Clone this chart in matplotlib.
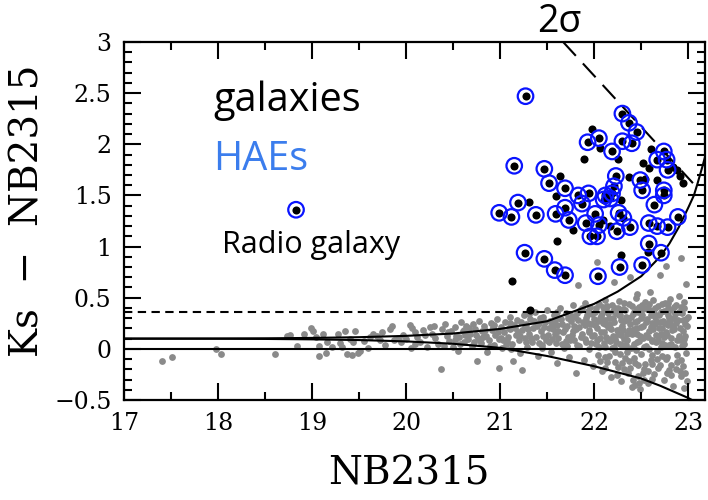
import numpy as np
import matplotlib.pyplot as plt
from matplotlib.ticker import MultipleLocator, FuncFormatter

# colour-magnitude diagram: Ks - NB2315 against NB2315

# all sources (grey)
gray_x = [17.41, 17.51, 17.98, 18.03, 18.61, 18.73, 18.77, 18.84, 18.91, 18.99,
          19.01, 19.04, 19.07, 19.07, 19.12, 19.16, 19.15, 19.21, 19.28, 19.30,
          19.32, 19.35, 19.37, 19.42, 19.40, 19.46, 19.49, 19.51, 19.44, 19.55,
          19.62, 19.65, 19.69, 19.74, 19.72, 19.83, 19.85, 19.87, 19.95, 19.97,
          19.78, 19.60, 19.91, 20.04, 20.06, 20.09, 20.12, 20.15, 20.05, 20.18,
          20.22, 20.25, 20.28, 20.31, 20.34, 20.37, 20.38, 20.41, 20.44, 20.46,
          20.48, 20.50, 20.52, 20.55, 20.56, 20.58, 20.60, 20.62, 20.64, 20.66,
          20.68, 20.70, 20.71, 20.73, 20.75, 20.76, 20.78, 20.80, 20.81, 20.83,
          20.85, 20.86, 20.88, 20.90, 20.91, 20.93, 20.95, 20.97, 20.99, 20.99,
          21.01, 21.02, 21.04, 21.05, 21.07, 21.08, 21.10, 21.11, 21.13, 21.14,
          21.15, 21.17, 21.18, 21.20, 21.21, 21.23, 21.23, 21.25, 21.26, 21.28,
          21.29, 21.31, 21.32, 21.34, 21.35, 21.37, 21.38, 21.40, 21.41, 21.43,
          21.44, 21.46, 21.47, 21.49, 21.50, 21.51, 21.53, 21.54, 21.56, 21.57,
          21.59, 21.60, 21.61, 21.62, 21.64, 21.65, 21.67, 21.68, 21.70, 21.71,
          21.73, 21.74, 21.75, 21.77, 21.78, 21.80, 21.81, 21.82, 21.83, 21.84,
          21.85, 21.86, 21.88, 21.89, 21.90, 21.91, 21.92, 21.94, 21.95, 21.96,
          21.97, 21.98, 21.99, 22.00, 22.01, 22.02, 22.03, 22.03, 22.04, 22.05,
          22.06, 22.07, 22.08, 22.09, 22.10, 22.11, 22.12, 22.13, 22.14, 22.15,
          22.16, 22.17, 22.18, 22.19, 22.20, 22.21, 22.21, 22.22, 22.23, 22.24,
          22.25, 22.26, 22.27, 22.28, 22.29, 22.30, 22.31, 22.32, 22.33, 22.34,
          22.35, 22.36, 22.37, 22.38, 22.38, 22.39, 22.40, 22.41, 22.42, 22.43,
          22.44, 22.45, 22.45, 22.46, 22.47, 22.48, 22.49, 22.50, 22.51, 22.52,
          22.53, 22.54, 22.55, 22.56, 22.57, 22.58, 22.59, 22.59, 22.60, 22.61,
          22.62, 22.63, 22.64, 22.65, 22.66, 22.67, 22.68, 22.69, 22.70, 22.70,
          22.71, 22.72, 22.73, 22.74, 22.75, 22.76, 22.76, 22.77, 22.78, 22.79,
          22.80, 22.81, 22.82, 22.83, 22.84, 22.85, 22.86, 22.87, 22.88, 22.89,
          22.90, 22.91, 22.92, 22.92, 22.93, 22.94, 22.95, 22.96, 22.97, 22.98,
          22.98, 23.00,
          21.52, 21.55, 21.58, 21.63, 21.66, 21.69, 21.72, 21.76, 21.79, 21.83,
          21.87, 21.90, 21.93, 21.97, 22.00, 22.02, 22.04, 22.06, 22.08, 22.10,
          22.12, 22.14, 22.16, 22.18, 22.20, 22.22, 22.24, 22.26, 22.28, 22.30,
          22.32, 22.34, 22.36, 22.38, 22.40, 22.42, 22.44, 22.46, 22.48, 22.50,
          22.52, 22.54, 22.56, 22.58, 22.60, 22.62, 22.64, 22.66, 22.68, 22.70,
          22.72, 22.74, 22.76, 22.78, 22.80, 22.82, 22.84, 22.86, 22.88, 22.90,
          22.92, 22.94, 22.96, 22.98, 22.99, 22.05, 22.15, 22.25, 22.35, 22.45,
          22.55, 22.65, 22.75, 22.85, 22.95, 22.11, 22.21, 22.31, 22.41, 22.51,
          22.61, 22.71, 22.81, 22.91, 21.61, 21.71, 21.81, 21.91, 21.01, 21.11,
          21.21, 21.31, 21.41, 21.06, 21.16, 21.26, 21.36, 21.46, 20.92, 20.82,
          20.72, 20.62, 20.52]
gray_y = [-0.12, -0.08, 0.00, -0.05, -0.05, 0.13, 0.14, 0.03, 0.15, 0.20,
          0.17, 0.12, 0.03, -0.07, 0.15, 0.07, -0.04, 0.02, 0.15, 0.06,
          0.02, 0.17, -0.05, -0.06, 0.10, 0.17, -0.04, -0.02, 0.07, 0.08,
          0.12, 0.15, 0.13, 0.16, 0.09, 0.19, 0.22, 0.09, 0.07, 0.14,
          0.04, 0.01, 0.11, 0.23, 0.20, 0.16, 0.12, 0.07, 0.01, 0.18,
          0.02, 0.21, 0.15, 0.11, 0.05, -0.20, 0.19, 0.24, 0.13, 0.08,
          0.17, 0.02, 0.21, -0.02, 0.12, 0.26, 0.17, 0.07, 0.22, 0.10,
          0.15, 0.03, 0.24, 0.19, -0.12, 0.11, 0.27, 0.06, 0.17, 0.22,
          0.13, -0.03, 0.09, 0.25, 0.18, 0.04, 0.14, 0.29, -0.19, 0.10,
          0.21, 0.01, 0.16, 0.26, 0.08, 0.12, 0.31, 0.19, 0.05, -0.12,
          0.23, 0.14, 0.28, 0.09, -0.04, -0.21, 0.18, 0.33, 0.11, 0.24,
          0.02, 0.15, 0.29, 0.07, 0.20, 0.36, 0.12, -0.07, 0.25, 0.17,
          0.04, 0.31, 0.21, 0.09, 0.38, 0.14, 0.27, -0.03, 0.19, 0.33,
          0.06, -0.14, 0.23, 0.11, 0.40, 0.29, 0.16, 0.01, 0.35, 0.22,
          -0.08, 0.09, 0.27, 0.43, 0.17, 0.31, -0.24, 0.04, 0.62, 0.21,
          0.38, 0.12, 0.26, -0.11, 0.45, 0.07, 0.33, 0.18, 0.00, 0.41,
          0.24, 0.13, -0.17, 0.29, 0.36, 0.05, 0.85, 0.20, -0.06, 0.44,
          0.11, 0.32, -0.22, 0.25, 0.16, 0.48, 0.02, 0.38, -0.13, 0.21,
          0.30, 0.08, -0.28, 0.43, 0.13, 0.65, 0.26, -0.03, 0.35, 0.18,
          -0.18, 0.47, 0.05, 0.28, -0.31, 0.22, 0.39, 0.10, -0.09, 0.31,
          0.15, -0.24, 0.44, 0.70, 0.24, 0.01, -0.37, 0.34, 0.19, -0.14,
          0.50, 0.54, 0.07, 0.27, -0.27, 0.41, 0.13, -0.05, 0.33, 0.22,
          -0.20, 0.46, 0.03, 0.29, -0.33, 0.17, 0.56, 0.38, -0.11, 0.25,
          0.09, 0.48, -0.25, 0.31, 0.14, -0.02, 0.42, 0.20, 0.72, -0.16,
          0.36, 0.06, 0.27, -0.30, 0.45, 0.81, 0.16, -0.08, 0.33, 0.23,
          -0.21, 0.49, 0.11, 0.38, -0.36, 0.19, 0.02, 0.43, -0.13, 0.28,
          0.52, 0.09, 0.89, -0.27, 0.35, 0.17, -0.38, 0.46, 0.24, 0.63,
          -0.04, 0.31,
          0.07, 0.24, 0.15, 0.30, 0.05, 0.19, 0.12, 0.32, 0.09, 0.28,
          0.15, 0.23, 0.37, 0.06, 0.14, 0.40, 0.27, -0.12, 0.35, 0.06,
          0.24, 0.42, -0.07, 0.19, 0.37, 0.10, -0.26, 0.33, 0.14, -0.14,
          0.45, 0.04, 0.28, -0.19, 0.15, 0.36, -0.01, 0.20, -0.33, 0.30,
          0.11, -0.15, 0.40, 0.00, 0.21, -0.29, 0.35, 0.07, -0.19, 0.26,
          0.44, 0.12, -0.10, 0.40, 0.04, -0.26, 0.22, 0.34, -0.06, 0.13,
          0.41, -0.17, 0.05, 0.29, -0.31, 0.02, 0.10, 0.40, -0.03, 0.39,
          0.14, 0.24, 0.04, 0.30, 0.10, -0.19, 0.02, 0.18, -0.30, 0.43,
          -0.06, 0.15, 0.27, -0.22, 0.36, 0.03, 0.19, 0.30, 0.11, 0.25,
          0.13, 0.34, 0.06, 0.04, 0.20, 0.21, 0.27, 0.13, 0.21, 0.12,
          0.07, 0.18, 0.09]

# fainter part of the grey cloud
gray_x2 = [20.00, 20.10, 20.20, 20.30, 20.40, 20.45, 20.53, 20.57, 20.63, 20.67,
           20.74, 20.79, 20.84, 20.89, 20.94, 20.98, 21.03, 21.09, 21.12, 21.19,
           21.22, 21.27, 21.30, 21.33, 21.39, 21.42, 21.45, 21.48, 21.52, 21.55,
           21.58, 21.62, 21.66, 21.70, 21.72, 21.76, 21.79, 21.82, 21.84, 21.87,
           21.90, 21.93, 21.95, 21.98, 22.01, 22.03, 22.06, 22.07, 22.09, 22.11,
           22.13, 22.15, 22.17, 22.19, 22.20, 22.22, 22.23, 22.25, 22.27, 22.29,
           22.30, 22.32, 22.33, 22.35, 22.37, 22.39, 22.40, 22.42, 22.43, 22.45,
           22.47, 22.48, 22.50, 22.52, 22.53, 22.55, 22.57, 22.58, 22.60, 22.61,
           22.63, 22.65, 22.66, 22.68, 22.69, 22.71, 22.72, 22.74, 22.75, 22.77,
           22.79, 22.80, 22.82, 22.83, 22.85, 22.87, 22.88, 22.90, 22.91, 22.93,
           22.94, 22.96, 22.97, 22.99, 22.12, 22.22, 22.32, 22.42, 22.52, 22.62,
           22.72, 22.82, 22.92, 22.27, 22.37, 22.47, 22.57, 22.67, 22.77, 22.87,
           22.97, 22.43, 22.49, 22.53]
gray_y2 = [0.10, 0.05, 0.14, 0.22, 0.03, 0.16, 0.13, 0.05, 0.14, 0.20,
           0.14, 0.09, 0.18, 0.03, 0.23, 0.16, 0.09, 0.20, 0.00, 0.16,
           0.26, 0.07, 0.19, 0.11, 0.22, 0.30, 0.01, 0.26, 0.20, 0.10,
           0.28, 0.17, 0.24, 0.08, 0.30, 0.14, 0.22, 0.35, 0.03, 0.40,
           0.10, 0.25, 0.16, 0.34, 0.23, 0.09, 0.30, 0.16, 0.41, 0.28,
           0.12, 0.35, 0.24, 0.01, 0.30, 0.40, 0.07, 0.15, 0.33, 0.20,
           0.04, 0.27, 0.38, 0.09, 0.18, 0.31, 0.42, 0.05, 0.26, 0.15,
           0.36, 0.08, 0.21, 0.39, 0.02, 0.26, 0.12, 0.44, 0.33, 0.08,
           0.19, 0.40, 0.27, 0.10, 0.33, 0.02, 0.20, 0.37, 0.25, 0.14,
           0.45, 0.30, 0.05, 0.18, 0.41, 0.25, 0.09, 0.36, 0.20, 0.03,
           0.28, 0.40, 0.13, 0.22, -0.08, -0.13, -0.20, -0.09, -0.24, -0.15,
           -0.07, -0.16, -0.11, -0.05, -0.12, -0.16, -0.22, -0.10, -0.24, -0.20,
           -0.24, -0.35, -0.39, -0.30]

# colour-selected galaxies (black)
gal_x = [21.64, 21.31, 21.59, 21.60, 21.13, 21.32, 21.98, 21.89, 22.06, 22.25,
         22.60, 22.52, 22.58, 22.67, 22.88, 22.91, 22.94, 22.37, 22.54, 22.28,
         22.09, 21.78, 22.17, 22.29, 22.57, 22.84]
gal_y = [1.69, 1.44, 1.49, 1.05, 0.66, 0.38, 2.15, 1.86, 1.96, 1.86,
         1.95, 1.82, 1.77, 1.65, 1.75, 1.69, 1.62, 1.68, 1.66, 1.46,
         1.26, 1.16, 1.20, 0.92, 0.95, 1.78]

# H-alpha emitters (black dot + blue ring), first one is the radio galaxy
hae_x = [18.83, 21.27, 21.15, 21.47, 21.52, 21.69, 21.19, 20.99, 21.12, 21.38,
         21.59, 21.69, 21.73, 21.26, 21.47, 21.58, 21.69, 22.30, 22.37, 22.45,
         22.40, 22.30, 21.93, 22.05, 22.19, 22.67, 22.74, 22.77, 22.78, 22.23,
         22.49, 22.51, 22.21, 22.19, 22.12, 22.10, 22.17, 21.83, 21.94, 21.87,
         22.74, 22.74, 22.64, 21.91, 22.01, 22.05, 21.96, 22.03, 22.26, 22.31,
         22.24, 22.38, 22.58, 22.67, 22.78, 22.89, 22.58, 22.71, 22.51, 22.27,
         22.04]
hae_y = [1.36, 2.47, 1.79, 1.76, 1.62, 1.57, 1.43, 1.33, 1.29, 1.31,
         1.32, 1.38, 1.26, 0.94, 0.88, 0.77, 0.72, 2.30, 2.21, 2.12,
         2.01, 2.03, 2.02, 2.06, 1.93, 1.85, 1.93, 1.85, 1.75, 1.69,
         1.65, 1.55, 1.59, 1.52, 1.50, 1.46, 1.47, 1.50, 1.52, 1.42,
         1.55, 1.50, 1.41, 1.23, 1.32, 1.21, 1.10, 1.10, 1.33, 1.28,
         1.15, 1.19, 1.23, 1.20, 1.19, 1.29, 1.03, 0.94, 0.82, 0.80,
         0.71]

# 2 sigma colour-excess curves
sig_x = [17.0, 18.0, 18.5, 19.0, 19.5, 20.0, 20.5, 21.0, 21.5, 22.0,
         22.25, 22.5, 22.7, 22.8, 22.9, 23.0, 23.06, 23.1, 23.15, 23.2]
sig_up = [0.100, 0.101, 0.103, 0.107, 0.114, 0.127, 0.150, 0.195, 0.27, 0.44,
          0.56, 0.71, 0.90, 1.03, 1.19, 1.38, 1.50, 1.62, 1.78, 1.95]
sig_lo = [0.100, 0.099, 0.097, 0.093, 0.086, 0.073, 0.050, 0.010, -0.07, -0.17,
          -0.23, -0.29, -0.36, -0.40, -0.44, -0.48, -0.51, -0.53, -0.56, -0.59]

# Ks detection limit
lim_x = [21.67, 23.05]
lim_y = [3.0, 1.62]

cut_y = 0.36

serif = 'DejaVu Serif'
sans = 'Open Sans'

fig = plt.figure(figsize=(7.08, 5.0), dpi=100)
ax = fig.add_axes([0.175, 0.2, 0.821, 0.716])

ax.scatter(gray_x + gray_x2, gray_y + gray_y2, s=24, c='#8a8a8a', lw=0, zorder=1)
ax.axhline(0, color='k', lw=1.5, zorder=2)
ax.axhline(cut_y, color='k', lw=1.5, ls=(0, (4, 2.6)), zorder=2)
ax.plot(sig_x, sig_up, color='k', lw=1.5, zorder=2)
ax.plot(sig_x, sig_lo, color='k', lw=1.5, zorder=2)
ax.plot(lim_x, lim_y, color='k', lw=1.5, ls=(0, (9, 5)), zorder=2)

ax.scatter(gal_x, gal_y, s=34, c='k', lw=0, zorder=3)
ax.scatter(hae_x, hae_y, s=34, c='k', lw=0, zorder=3)
ax.scatter(hae_x, hae_y, s=125, facecolors='none', edgecolors='#0a14ff',
           linewidths=1.6, zorder=4)

ax.set_xlim(17, 23.18)
ax.set_ylim(-0.5, 3)
ax.xaxis.set_major_locator(MultipleLocator(1))
ax.xaxis.set_minor_locator(MultipleLocator(0.5))
ax.yaxis.set_major_locator(MultipleLocator(0.5))
ax.yaxis.set_minor_locator(MultipleLocator(0.1))
fmt = FuncFormatter(lambda v, p: ('%g' % round(v, 2)).replace('-', '\u2212'))
ax.xaxis.set_major_formatter(fmt)
ax.yaxis.set_major_formatter(fmt)
ax.tick_params(which='both', direction='in', top=True, right=True, width=1.5)
ax.tick_params(which='major', length=12, pad=9, labelsize=17)
ax.tick_params(which='minor', length=6)
for lab in ax.get_xticklabels() + ax.get_yticklabels():
    lab.set_family(serif)
for sp in ax.spines.values():
    sp.set_linewidth(1.6)

ax.set_xlabel('NB2315', family=serif, fontsize=28)
ax.set_ylabel('Ks  \u2212  NB2315', family=serif, fontsize=28)
ax.xaxis.set_label_coords(0.49, -0.155)
ax.yaxis.set_label_coords(-0.133, 0.53)

ax.text(17.95, 2.43, 'galaxies', family=sans, fontsize=28.5, va='center', color='k')
ax.text(17.95, 1.85, 'HAEs', family=sans, fontsize=28.5, va='center', color='#3b7ded')
ax.text(18.04, 1.02, 'Radio galaxy', family=sans, fontsize=22, va='center', color='k')
ax.text(21.39, 3.2, '2\u03c3', family=sans, fontsize=27, va='center', color='k',
        clip_on=False)

fig.savefig('out.png', dpi=100)
